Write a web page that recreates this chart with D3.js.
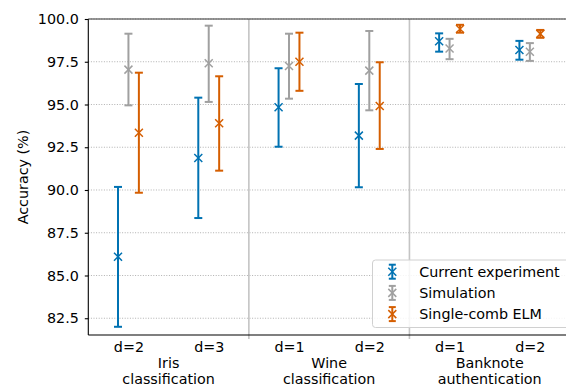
<!DOCTYPE html>
<html><head><meta charset="utf-8">
<script src="https://cdn.jsdelivr.net/npm/d3@7"></script>
<style>body{margin:0;background:#fff;}svg{display:block;font-family:"DejaVu Sans",sans-serif;}</style>
</head><body><svg id="c" width="566" height="387"></svg>
<script>
const tickLabels = ["d=2","d=3","d=1","d=2","d=1","d=2"];
const groups = [["Iris","classification"],["Wine","classification"],["Banknote","authentication"]];
const groupCenters = [0.5, 2.5, 4.5];
const separators = [1.5, 3.5];
const seriesNames = ["Current experiment","Simulation","Single-comb ELM"];
const seriesColors = ["#0072B2","#A0A0A0","#D55E00"];
const yTicks = [82.5,85.0,87.5,90.0,92.5,95.0,97.5,100.0];

const expMean  = [86.1, 91.87, 94.84, 93.18, 98.7, 98.19];
const expLow   = [82.0, 88.36, 92.53, 90.16, 98.09, 97.62];
const expHigh  = [90.18, 95.4, 97.12, 96.2, 99.16, 98.72];
const simMean  = [97.04, 97.41, 97.25, 96.98, 98.27, 98.09];
const simLow   = [94.95, 95.15, 95.34, 94.66, 97.65, 97.55];
const simHigh  = [99.14, 99.61, 99.14, 99.3, 98.84, 98.59];
const elmMean  = [93.35, 93.9, 97.5, 94.91, 99.42, 99.13];
const elmLow   = [89.84, 91.13, 95.8, 92.4, 99.2, 98.9];
const elmHigh  = [96.86, 96.65, 99.2, 97.47, 99.66, 99.36];

(function(){
const series = [
  {mean: expMean, low: expLow, high: expHigh},
  {mean: simMean, low: simLow, high: simHigh},
  {mean: elmMean, low: elmLow, high: elmHigh}
];
const offsets = [-0.13, 0, 0.13];

const svg = d3.select("#c");
const pL = 88.3, pT = 19, pB = 335, pR = 570;
const x = d3.scaleLinear().domain([-0.5, 5.5]).range([pL, pR]);
const y = d3.scaleLinear().domain([81.52, 100]).range([pB, pT]);
const fs = 14.3;

// grid
svg.append("g").selectAll("line").data(yTicks).join("line")
  .attr("x1", pL).attr("x2", pR)
  .attr("y1", d => y(d)).attr("y2", d => y(d))
  .attr("stroke", "#b0b0b0").attr("stroke-width", 1).attr("stroke-dasharray", "1,1.6");

// separators
svg.append("g").selectAll("line").data(separators).join("line")
  .attr("x1", d => x(d)).attr("x2", d => x(d))
  .attr("y1", pT).attr("y2", pB + 4)
  .attr("stroke", "#c4c4c4").attr("stroke-width", 1.6);

// y axis
const yAxis = d3.axisLeft(y).tickValues(yTicks).tickFormat(d3.format(".1f")).tickSize(3.5).tickPadding(6);
const ga = svg.append("g").attr("transform", `translate(${pL},0)`).call(yAxis);
ga.select(".domain").remove();
ga.selectAll("text").attr("font-size", fs).attr("fill", "#000").attr("font-family", "DejaVu Sans");
ga.selectAll("line").attr("stroke", "#000").attr("stroke-width", 1.1);

// x axis
const xAxis = d3.axisBottom(x).tickValues(d3.range(6)).tickFormat(i => tickLabels[i]).tickSize(0).tickPadding(7);
const gx = svg.append("g").attr("transform", `translate(0,${pB})`).call(xAxis);
gx.select(".domain").remove();
gx.selectAll("text").attr("font-size", fs).attr("fill", "#000").attr("font-family", "DejaVu Sans");

// group labels
groups.forEach((g, i) => {
  const t = svg.append("text").attr("x", x(groupCenters[i])).attr("text-anchor", "middle")
    .attr("font-size", fs).attr("fill", "#000");
  t.append("tspan").attr("x", x(groupCenters[i])).attr("y", 368).text(g[0]);
  t.append("tspan").attr("x", x(groupCenters[i])).attr("y", 384).text(g[1]);
});

// spines
svg.append("line").attr("x1", pL).attr("x2", pL).attr("y1", pT).attr("y2", pB).attr("stroke", "#000").attr("stroke-width", 1.1);
svg.append("line").attr("x1", pL).attr("x2", pR).attr("y1", pB).attr("y2", pB).attr("stroke", "#000").attr("stroke-width", 1.1);
svg.append("line").attr("x1", pL).attr("x2", pR).attr("y1", pT).attr("y2", pT).attr("stroke", "#333").attr("stroke-width", 1.2);

// y label
svg.append("text").attr("transform", `translate(28,${(pT+pB)/2}) rotate(-90)`)
  .attr("text-anchor", "middle").attr("font-size", fs).attr("fill", "#000").text("Accuracy (%)");

// error bars
const cap = 4, ms = 4;
function drawX(g, cx, cy, color) {
  g.append("path").attr("d", `M${cx-ms},${cy-ms}L${cx+ms},${cy+ms}M${cx-ms},${cy+ms}L${cx+ms},${cy-ms}`)
    .attr("stroke", color).attr("stroke-width", 1.5).attr("fill", "none");
}
series.forEach((s, si) => {
  const g = svg.append("g");
  const color = seriesColors[si];
  s.mean.forEach((m, i) => {
    const cx = x(i + offsets[si]);
    g.append("line").attr("x1", cx).attr("x2", cx).attr("y1", y(s.low[i])).attr("y2", y(s.high[i]))
      .attr("stroke", color).attr("stroke-width", 2);
    [s.low[i], s.high[i]].forEach(v => {
      g.append("line").attr("x1", cx - cap).attr("x2", cx + cap).attr("y1", y(v)).attr("y2", y(v))
        .attr("stroke", color).attr("stroke-width", 2);
    });
    drawX(g, cx, y(m), color);
  });
});

// legend
const lg = svg.append("g");
lg.append("rect").attr("x", 372.5).attr("y", 260).attr("width", 200).attr("height", 67.5)
  .attr("rx", 3).attr("fill", "rgba(255,255,255,0.85)").attr("stroke", "#d0d0d0").attr("stroke-width", 1);
seriesNames.forEach((n, i) => {
  const cy = 271.7 + i * 21.2, cx = 392.3, color = seriesColors[i];
  lg.append("line").attr("x1", cx).attr("x2", cx).attr("y1", cy - 7).attr("y2", cy + 7).attr("stroke", color).attr("stroke-width", 2);
  [cy - 7, cy + 7].forEach(v => lg.append("line").attr("x1", cx - 3.5).attr("x2", cx + 3.5).attr("y1", v).attr("y2", v).attr("stroke", color).attr("stroke-width", 2));
  drawX(lg, cx, cy, color);
  lg.append("text").attr("x", 419.3).attr("y", cy + 5).attr("font-size", fs).attr("fill", "#000").text(n);
});
})();
</script></body></html>
